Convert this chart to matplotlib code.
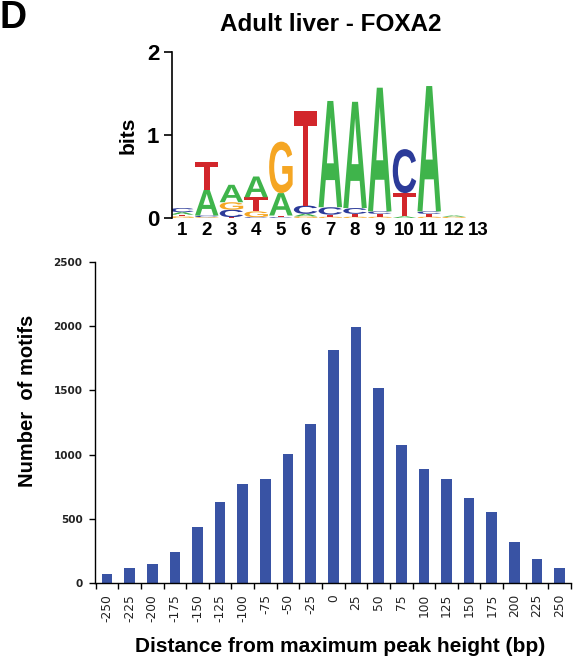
import matplotlib
matplotlib.use("Agg")
import matplotlib.pyplot as plt
from matplotlib.textpath import TextPath
from matplotlib.patches import PathPatch
from matplotlib.font_manager import FontProperties
from matplotlib.transforms import Affine2D

# motif logo: letter stacks per position, bottom to top, heights in bits
logo_stacks = [
    [("G", 0.02), ("T", 0.02), ("A", 0.03), ("C", 0.05)],
    [("G", 0.01), ("C", 0.02), ("A", 0.31), ("T", 0.33)],
    [("T", 0.01), ("C", 0.09), ("G", 0.09), ("A", 0.21)],
    [("C", 0.01), ("G", 0.07), ("T", 0.17), ("A", 0.25)],
    [("C", 0.01), ("T", 0.02), ("A", 0.27), ("G", 0.62)],
    [("G", 0.02), ("A", 0.03), ("C", 0.10), ("T", 1.14)],
    [("G", 0.015), ("T", 0.025), ("C", 0.09), ("A", 1.28)],
    [("G", 0.015), ("T", 0.035), ("C", 0.07), ("A", 1.28)],
    [("G", 0.015), ("T", 0.035), ("C", 0.03), ("A", 1.49)],
    [("A", 0.02), ("T", 0.28), ("C", 0.53)],
    [("G", 0.015), ("T", 0.035), ("C", 0.03), ("A", 1.51)],
    [("G", 0.015), ("A", 0.015)],
    [],
]
logo_positions = ["1", "2", "3", "4", "5", "6", "7", "8", "9", "10", "11", "12", "13"]
base_colors = {"A": "#3fb44b", "C": "#2c3b99", "G": "#f5a623", "T": "#d2262b"}

# motif counts by distance from the peak summit
distances = ["-250", "-225", "-200", "-175", "-150", "-125", "-100", "-75", "-50", "-25", "0",
             "25", "50", "75", "100", "125", "150", "175", "200", "225", "250"]
motif_counts = [70, 119, 145, 239, 439, 633, 771, 808, 1005, 1239, 1815,
                1997, 1517, 1073, 890, 808, 660, 551, 317, 185, 119]

bar_color = "#3953a4"
helv = "Liberation Sans"
letter_font = FontProperties(family=helv, weight="bold")


def draw_letter(ax, ch, x, y, w, h, color):
    tp = TextPath((0, 0), ch, size=1, prop=letter_font)
    bb = tp.get_extents()
    tr = Affine2D().translate(-bb.x0, -bb.y0).scale(w / bb.width, h / bb.height).translate(x - w / 2, y)
    ax.add_patch(PathPatch(tr.transform_path(tp), fc=color, ec="none"))


fig = plt.figure(figsize=(5.73, 6.60), dpi=100)

fig.text(-1 / 573, 1 - 28.5 / 660, "D", fontsize=27, fontweight="bold", family=helv, va="baseline")
fig.text(331 / 573, 1 - 31 / 660, "Adult liver - FOXA2", fontsize=17.5, fontweight="bold",
         family=helv, ha="center", va="baseline")

# sequence logo
ax1 = fig.add_axes([172 / 573, 1 - 218 / 660, 319 / 573, 166 / 660])
for i, stack in enumerate(logo_stacks):
    pos = i + 1
    y = 0.0
    for ch, h in stack:
        draw_letter(ax1, ch, pos, y, 0.95, h, base_colors[ch])
        y += h
ax1.set_xlim(0.595, 13.5)
ax1.set_ylim(0, 2)
ax1.set_yticks([0, 1, 2])
ax1.set_xticks(range(1, 14))
ax1.set_xticklabels(logo_positions)
for s in ["top", "right", "bottom"]:
    ax1.spines[s].set_visible(False)
ax1.spines["left"].set_linewidth(1.2)
ax1.tick_params(axis="y", length=6, width=1.2, pad=3, labelsize=16)
ax1.tick_params(axis="x", length=0, pad=3, labelsize=13.5)
for lab in ax1.get_xticklabels() + ax1.get_yticklabels():
    lab.set_fontweight("bold")
    lab.set_family(helv)
fig.text(128 / 573, 1 - 135 / 660, "bits", rotation=90, fontsize=15, fontweight="bold",
         family=helv, ha="center", va="center")

# histogram of motif positions
ax2 = fig.add_axes([95 / 573, 1 - 583 / 660, 476 / 573, 321 / 660])
x = list(range(len(motif_counts)))
ax2.bar(x, motif_counts, width=0.47, color=bar_color)
ax2.set_xlim(-0.53, 20.5)
ax2.set_ylim(0, 2500)
ax2.set_yticks([0, 500, 1000, 1500, 2000, 2500])
ax2.set_xticks(x)
ax2.set_xticklabels(distances, rotation=90, fontsize=8.8, color="#222222", family="DejaVu Sans")
ax2.set_xticks([i + 0.5 for i in range(-1, 21)], minor=True)
ax2.tick_params(axis="x", which="major", length=0, pad=8)
ax2.tick_params(axis="x", which="minor", length=4, width=1.0, direction="out")
ax2.tick_params(axis="y", length=4, width=1.0, pad=5, labelsize=7.5, labelcolor="#222222")
for lab in ax2.get_yticklabels():
    lab.set_fontweight("bold")
    lab.set_family("DejaVu Sans")
ax2.spines["top"].set_visible(False)
ax2.spines["right"].set_visible(False)
ax2.spines["left"].set_linewidth(1.0)
ax2.spines["bottom"].set_linewidth(1.0)

fig.text(28 / 573, 1 - 401 / 660, "Number  of motifs", rotation=90, fontsize=14.5,
         fontweight="bold", family=helv, ha="center", va="center")
fig.text(340 / 573, 1 - 652 / 660, "Distance from maximum peak height (bp)", fontsize=15,
         fontweight="bold", family=helv, ha="center", va="baseline")

fig.savefig("out.png", dpi=100)
